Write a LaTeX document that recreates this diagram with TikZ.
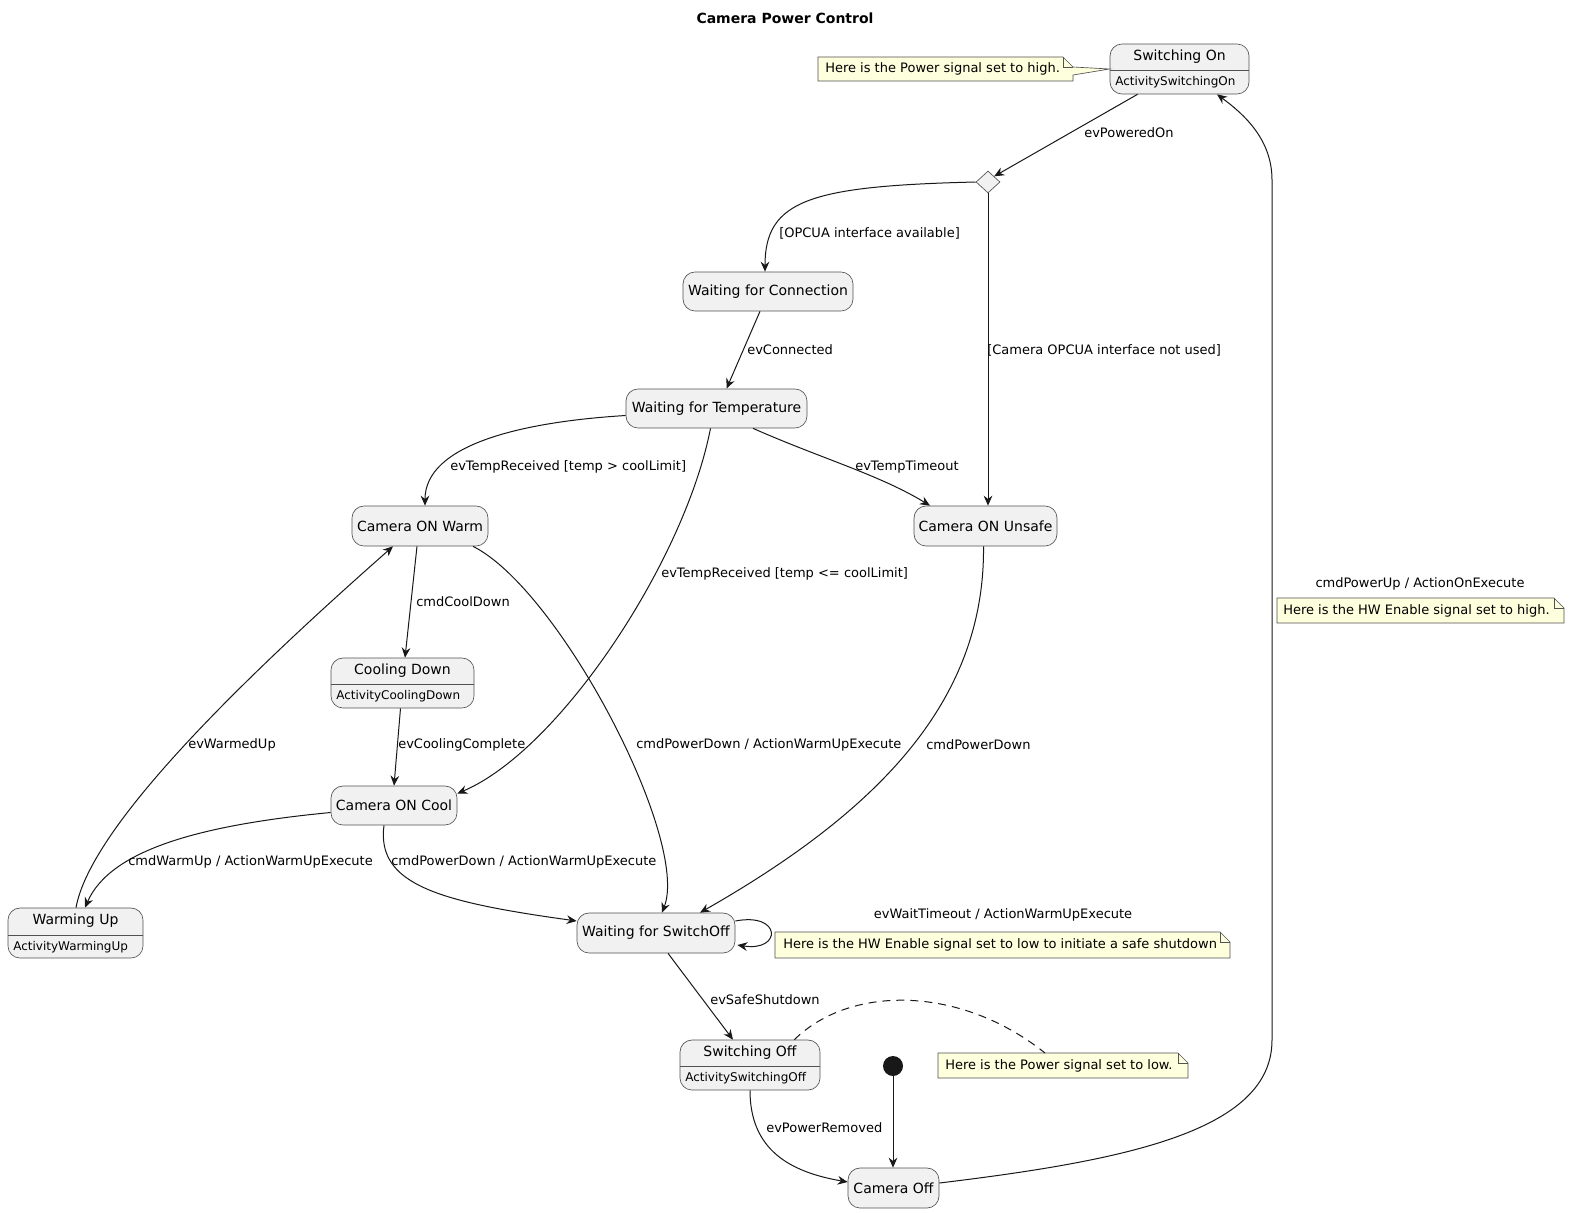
\documentclass[tikz,border=0pt]{standalone}
\usepackage{fontspec}
\setmainfont{DejaVu Sans}
\usetikzlibrary{arrows.meta,shapes.geometric,calc}
\definecolor{linec}{HTML}{181818}
\definecolor{statefill}{HTML}{F1F1F1}
\definecolor{notefill}{HTML}{FEFFDD}
\def\px{0.75pt}
\begin{document}
\begin{tikzpicture}[x=0.75pt,y=-0.75pt,
  st/.style={draw=linec!75, fill=statefill, rounded corners=9pt, line width=0.5pt, inner sep=0pt, font=\fontsize{10.5}{12}\selectfont},
  stname/.style={inner sep=0pt, font=\fontsize{10.5}{12}\selectfont},
  act/.style={inner sep=0pt, anchor=west, font=\fontsize{9}{11}\selectfont},
  lbl/.style={inner sep=0pt, anchor=west, font=\fontsize{9.75}{12}\selectfont},
  clbl/.style={inner sep=0pt, font=\fontsize{9.75}{12}\selectfont},
  arr/.style={draw=linec, line width=0.75pt, -{Stealth[length=7.5pt,width=6.5pt,inset=2.5pt]}},
  notebox/.style={draw=linec!75, fill=notefill, line width=0.5pt},
  notetext/.style={inner sep=0pt, anchor=west, font=\fontsize{9.75}{12}\selectfont},
  divl/.style={draw=linec!75, line width=0.5pt}
]
\useasboundingbox (0,0) rectangle (1570,1213);
\fill[white] (0,0) rectangle (1570,1213);

% title
\node[inner sep=0pt, font=\fontsize{10.5}{12}\selectfont\bfseries] (title) at (785,18) {Camera Power Control};

% states
\node[st, minimum width=139*\px, minimum height=50*\px] (swon) at (1179.5,69) {};
\draw[divl] (swon.west |- 0,70) -- (swon.east |- 0,70);
\node[stname] (swonN) at (1179.5,57) {Switching On};
\node[act] (swonA) at (1115,82) {ActivitySwitchingOn};

\node[diamond, draw=linec!75, fill=statefill, line width=0.5pt, minimum width=24*\px, minimum height=22*\px, inner sep=0pt] (dia) at (988,182) {};

\node[st, minimum width=170*\px, minimum height=39*\px] (conn) at (768,291.5) {Waiting for Connection};
\node[st, minimum width=181*\px, minimum height=39*\px] (temp) at (716.5,408.5) {Waiting for Temperature};
\node[st, minimum width=136*\px, minimum height=40*\px] (warm) at (420,526) {Camera ON Warm};
\node[st, minimum width=143*\px, minimum height=40*\px] (unsafe) at (985.5,526) {Camera ON Unsafe};

\node[st, minimum width=143*\px, minimum height=50*\px] (cooling) at (402.5,683) {};
\draw[divl] (cooling.west |- 0,684) -- (cooling.east |- 0,684);
\node[stname] (coolingN) at (402.5,671) {Cooling Down};
\node[act] (coolingA) at (336,696) {ActivityCoolingDown};

\node[st, minimum width=126*\px, minimum height=39*\px] (cool) at (394,805.5) {Camera ON Cool};

\node[st, minimum width=135*\px, minimum height=50*\px] (warmup) at (75.5,933) {};
\draw[divl] (warmup.west |- 0,935) -- (warmup.east |- 0,935);
\node[stname] (warmupN) at (75.5,921) {Warming Up};
\node[act] (warmupA) at (13,947) {ActivityWarmingUp};

\node[st, minimum width=158*\px, minimum height=40*\px] (waitoff) at (656,933) {Waiting for SwitchOff};

\node[st, minimum width=140*\px, minimum height=50*\px] (swoff) at (750,1065) {};
\draw[divl] (swoff.west |- 0,1066) -- (swoff.east |- 0,1066);
\node[stname] (swoffN) at (750,1053) {Switching Off};
\node[act] (swoffA) at (685,1078) {ActivitySwitchingOff};

\node[circle, fill=linec, minimum size=20*\px, inner sep=0pt] (init) at (893,1066) {};
\node[st, minimum width=91*\px, minimum height=40*\px] (camoff) at (893.5,1188) {Camera Off};

% notes
\draw[notebox] (818,57) -- (1063,57) -- (1073,67) -- (swon.west) -- (1073,75) -- (1073,81) -- (818,81) -- cycle;
\draw[divl] (1063,57) -- (1063,67) -- (1073,67);
\node[notetext] (note1) at (825,69) {Here is the Power signal set to high.};

\draw[notebox] (1277,598) -- (1554,598) -- (1564,608) -- (1564,623) -- (1277,623) -- cycle;
\draw[divl] (1554,598) -- (1554,608) -- (1564,608);
\node[notetext] (note2) at (1283,611) {Here is the HW Enable signal set to high.};

\draw[notebox] (775,932) -- (1220,932) -- (1230,942) -- (1230,958) -- (775,958) -- cycle;
\draw[divl] (1220,932) -- (1220,942) -- (1230,942);
\node[notetext] (note3) at (783,945) {Here is the HW Enable signal set to low to initiate a safe shutdown};

\draw[notebox] (938,1053) -- (1178,1053) -- (1188,1063) -- (1188,1078) -- (938,1078) -- cycle;
\draw[divl] (1178,1053) -- (1178,1063) -- (1188,1063);
\node[notetext] (note4) at (945,1066) {Here is the Power signal set to low.};
\coordinate (note4top) at (1045,1053);

% connectors
\draw[arr] ($(swon.south)+(-42,0)$) -- (dia.north east);
\draw[arr] (dia.west) .. controls (810,186) and (765,200) .. ($(conn.north)+(-3,0)$);
\draw[arr] (dia.south) -- (dia.south |- unsafe.north);
\draw[arr] ($(conn.south)+(-8,0)$) -- ($(temp.north)+(10,0)$);
\draw[arr] ($(temp.west)+(0,7)$) .. controls (520,422) and (425,445) .. ($(warm.north)+(5,0)$);
\draw[arr] ($(temp.south)+(36.5,0)$) .. controls (820,458) and (880,475) .. ($(unsafe.north)+(-55.5,0)$);
\draw[arr] ($(temp.south)+(-6,0)$) .. controls (685,560) and (560,750) .. ($(cool.east)+(0,-12)$);
\draw[arr] ($(warm.south)+(-3,0)$) -- ($(cooling.north)+(2.5,0)$);
\draw[arr] ($(warm.south)+(53,0)$) .. controls (560,590) and (690,840) .. ($(waitoff.north)+(6,0)$);
\draw[arr] ($(cooling.south)+(-2,0)$) -- (cool.north);
\draw[arr] ($(cool.west)+(0,7)$) .. controls (200,825) and (110,850) .. ($(warmup.north)+(9.5,0)$);
\draw[arr] ($(cool.south)+(-10,0)$) .. controls (376,885) and (440,902) .. ($(waitoff.west)+(0,-12)$);
\draw[arr] ($(warmup.north)+(0.5,0)$) .. controls (90,830) and (230,690) .. ($(warm.south)+(-27,0)$);
\draw[arr] ($(unsafe.south)+(-2,0)$) .. controls (985,700) and (880,810) .. ($(waitoff.north)+(44,0)$);
\draw[arr] ($(waitoff.east)+(0,-12)$) .. controls (782,912) and (782,952) .. ($(waitoff.east)+(2,12)$);
\draw[arr] ($(waitoff.south)+(12,0)$) -- ($(swoff.north)+(-17,0)$);
\draw[arr] (swoff.south) .. controls (750,1150) and (790,1172) .. ($(camoff.west)+(0,-6)$);
\draw[arr] (init) -- (camoff.north -| init);
\draw[arr] ($(camoff.east)+(0,-5)$) .. controls (1130,1160) and (1272,1130) .. (1272,1040) -- (1272,180) .. controls (1272,140) and (1245,115) .. ($(swon.south)+(37.5,0)$);
\draw[linec, line width=0.75pt, dash pattern=on 6pt off 4.5pt] ($(swoff.north east)+(-26,0)$) .. controls (850,985) and (960,985) .. (note4top);

% labels
\node[lbl] (l1) at (1084,133) {evPoweredOn};
\node[lbl] (l2) at (779,233) {[OPCUA interface available]};
\node[lbl] (l3) at (987,350) {[Camera OPCUA interface not used]};
\node[lbl] (l4) at (747,350) {evConnected};
\node[lbl] (l5) at (450,467) {evTempReceived [temp > coolLimit]};
\node[lbl] (l6) at (855,467) {evTempTimeout};
\node[lbl] (l7) at (661,574) {evTempReceived [temp <= coolLimit]};
\node[lbl] (l8) at (416,602) {cmdCoolDown};
\node[lbl] (l9) at (636,745) {cmdPowerDown / ActionWarmUpExecute};
\node[lbl] (l10) at (398,745) {evCoolingComplete};
\node[lbl] (l11) at (188,745) {evWarmedUp};
\node[lbl] (l12) at (926,745) {cmdPowerDown};
\node[lbl] (l13) at (128,862) {cmdWarmUp / ActionWarmUpExecute};
\node[lbl] (l14) at (391,862) {cmdPowerDown / ActionWarmUpExecute};
\node[clbl] (l15) at (1003,915) {evWaitTimeout / ActionWarmUpExecute};
\node[lbl] (l16) at (710,1000) {evSafeShutdown};
\node[lbl] (l17) at (766,1128) {evPowerRemoved};
\node[clbl] (l18) at (1420,584) {cmdPowerUp / ActionOnExecute};
\end{tikzpicture}
\end{document}
